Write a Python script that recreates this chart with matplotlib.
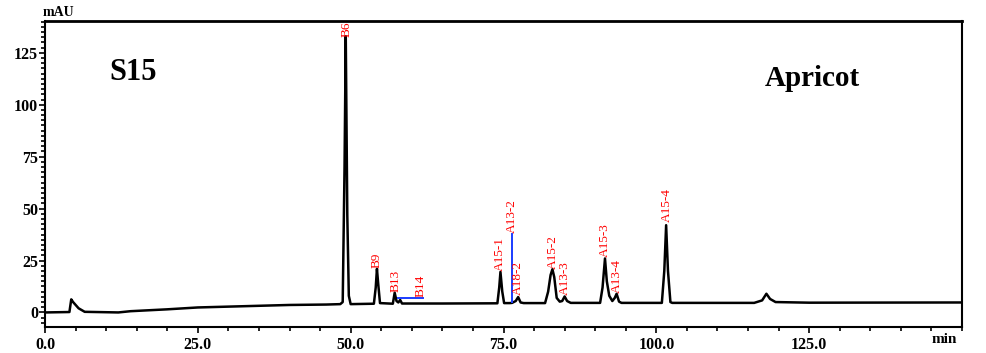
import numpy as np
import matplotlib
matplotlib.use('Agg')
import matplotlib.pyplot as plt
from matplotlib.ticker import MultipleLocator, FormatStrFormatter

plt.rcParams['font.family'] = ['Liberation Serif', 'DejaVu Serif']

# chromatogram trace (min, mAU)
trace_time = [0.0, 4.0, 4.3, 4.6, 5.5, 6.5, 12.0, 14.0, 20.0, 25.0, 30.0, 40.0, 46.0,
              48.3, 48.7, 49.0, 49.2, 49.45, 49.7, 50.0,
              53.8, 54.1, 54.3, 54.5, 54.8,
              56.9, 57.2, 57.5, 57.8, 58.1, 58.4,
              65.0, 74.0, 74.3, 74.5, 74.8, 75.1,
              76.0, 76.4, 77.0, 77.4, 77.8, 78.3,
              81.8, 82.3, 82.7, 83.0, 83.3, 83.7, 84.2, 84.6, 85.0, 85.4, 86.0,
              90.8, 91.2, 91.6, 91.9, 92.3, 92.8, 93.2, 93.5, 93.9, 94.3,
              100.9, 101.3, 101.6, 101.9, 102.3, 102.6,
              116.0, 117.3, 118.0, 118.6, 119.5, 125.0, 150.0]
trace_mau = [0.0, 0.2, 6.3, 5.0, 2.0, 0.3, 0.0, 0.6, 1.5, 2.4, 2.8, 3.6, 3.8,
             4.0, 5.0, 70.0, 133.0, 47.0, 8.0, 4.0,
             4.2, 12.0, 21.0, 14.0, 4.5,
             4.2, 9.5, 5.5, 4.8, 6.0, 4.3,
             4.3, 4.4, 12.0, 19.5, 10.0, 4.5,
             4.5, 4.6, 5.5, 7.4, 4.8, 4.5,
             4.5, 10.0, 18.0, 20.8, 17.0, 7.0, 5.2, 5.5, 7.7, 5.5, 4.6,
             4.6, 12.0, 26.0, 15.0, 8.0, 5.5, 7.0, 9.0, 5.2, 4.6,
             4.6, 20.0, 42.0, 20.0, 5.0, 4.6,
             4.6, 5.8, 9.0, 6.5, 5.0, 4.7, 4.8]

# peak labels
peak_names = ['B6', 'B9', 'B13', 'B14', 'A15-1', 'A13-2', 'A18-2',
              'A15-2', 'A13-3', 'A15-3', 'A13-4', 'A15-4']
peak_times = [49.3, 54.2, 57.3, 61.4, 74.4, 76.3, 77.4, 83.0, 85.0, 91.6, 93.5, 101.7]
peak_tops = [132.7, 21.2, 9.7, 7.2, 19.8, 38.1, 8.2, 20.8, 8.2, 26.5, 9.2, 43.4]

# blue integration marks
b14_span = [57.8, 61.8]
b14_level = 6.8
a13_time = 76.35
a13_span = [5.0, 38.0]

x_major = [0, 25, 50, 75, 100, 125]

fig = plt.figure(figsize=(9.86, 3.53), dpi=100)
ax = fig.add_axes([0.0456, 0.0737, 0.9301, 0.868])

ax.plot(trace_time, trace_mau, color='black', lw=1.8)
ax.plot(b14_span, [b14_level, b14_level], color='#1a3cff', lw=1.4)
ax.plot([a13_time, a13_time], a13_span, color='#1a3cff', lw=1.4)

for name, t, top in zip(peak_names, peak_times, peak_tops):
    ax.text(t, top, name, rotation=90, ha='center', va='bottom',
            color='red', fontsize=9.5)

ax.set_xlim(0, 150)
ax.set_ylim(-7, 140.5)
ax.set_xticks(x_major)
ax.xaxis.set_minor_locator(MultipleLocator(5))
ax.yaxis.set_major_locator(MultipleLocator(25))
ax.yaxis.set_minor_locator(MultipleLocator(2.5))
ax.xaxis.set_major_formatter(FormatStrFormatter('%.1f'))
ax.tick_params(which='both', direction='out', width=1.2, labelsize=11.5)
ax.tick_params(which='major', length=4)
ax.tick_params(which='minor', length=3)
ax.tick_params(axis='x', pad=3)
ax.tick_params(axis='y', pad=1)
for lab in ax.get_xticklabels() + ax.get_yticklabels():
    lab.set_fontweight('bold')
for sp in ax.spines.values():
    sp.set_linewidth(1.5)
ax.spines['top'].set_linewidth(2)

ax.text(0.07, 0.83, 'S15', transform=ax.transAxes, fontsize=22,
        fontweight='bold', ha='left', va='center')
ax.text(0.785, 0.81, 'Apricot', transform=ax.transAxes, fontsize=21,
        fontweight='bold', ha='left', va='center')
fig.text(0.059, 0.966, 'mAU', fontsize=10, fontweight='bold', ha='center', va='center')
fig.text(0.958, 0.037, 'min', fontsize=11, fontweight='bold', ha='center', va='center')

fig.savefig('out.png', dpi=100)
